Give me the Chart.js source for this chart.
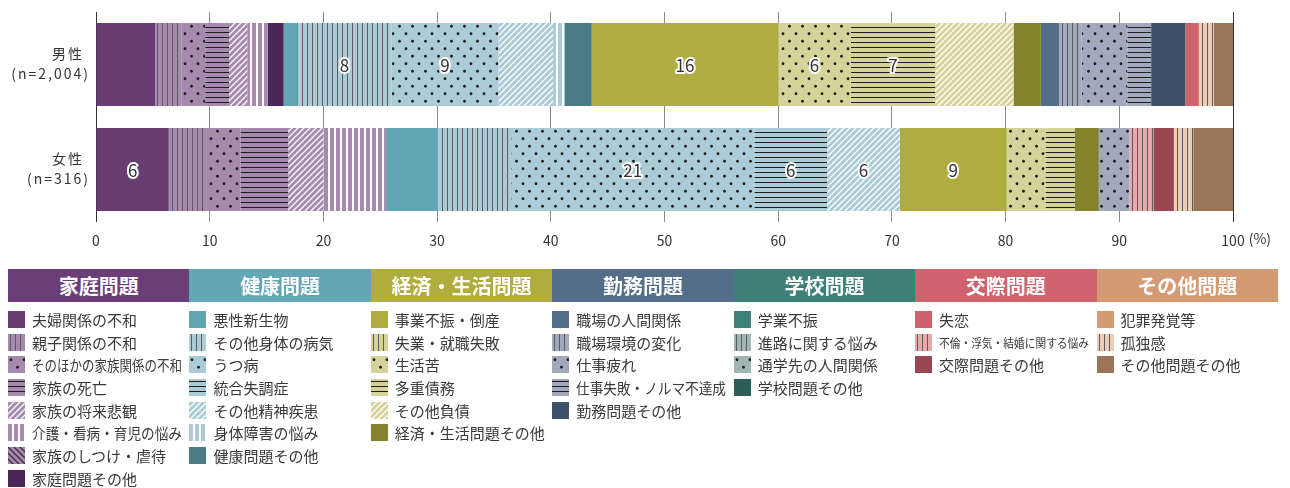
<!DOCTYPE html>
<html lang="ja">
<head>
<meta charset="utf-8">
<title>原因・動機別の構成比</title>
<script src="https://cdn.jsdelivr.net/npm/chart.js@4.4.1/dist/chart.umd.min.js"></script>
<style>
  body { margin: 0; background: #fff; font-family: "Noto Sans CJK JP", "Noto Sans", sans-serif; color: #333; }
  #wrap { position: relative; width: 1290px; height: 488px; }
  #chartBox { position: absolute; left: 0; top: 0; width: 1290px; height: 258px; }
  #legend { position: absolute; left: 8px; top: 269px; width: 1270px; display: flex; }
  .col { width: 181.43px; }
  .head { height: 33px; line-height: 33px; text-align: center; color: #fff; font-weight: bold; font-size: 20px; }
  .items { padding-top: 6px; }
  .item { height: 22.7px; display: flex; align-items: center; white-space: nowrap; font-size: 15px; color: #3a3a3a; }
  .item canvas { width: 17px; height: 17px; flex: none; margin-right: 7px; }
  .item span { display: inline-block; transform-origin: left center; }
  .item span.small { font-size: 12px; }
</style>
</head>
<body>
<div id="wrap">
  <div id="chartBox"><canvas id="chart"></canvas></div>
  <div id="legend"></div>
</div>
<script>
"use strict";

// data

const rowLabels = [['男性', '(n=2,004)'], ['女性', '(n=316)']];

const groupNames = ['家庭問題', '健康問題', '経済・生活問題', '勤務問題', '学校問題', '交際問題', 'その他問題'];

const categories = [
  '夫婦関係の不和', '親子関係の不和', 'そのほかの家族関係の不和', '家族の死亡', '家族の将来悲観', '介護・看病・育児の悩み', '家族のしつけ・虐待', '家庭問題その他',
  '悪性新生物', 'その他身体の病気', 'うつ病', '統合失調症', 'その他精神疾患', '身体障害の悩み', '健康問題その他',
  '事業不振・倒産', '失業・就職失敗', '生活苦', '多重債務', 'その他負債', '経済・生活問題その他',
  '職場の人間関係', '職場環境の変化', '仕事疲れ', '仕事失敗・ノルマ不達成', '勤務問題その他',
  '学業不振', '進路に関する悩み', '通学先の人間関係', '学校問題その他',
  '失恋', '不倫・浮気・結婚に関する悩み', '交際問題その他',
  '犯罪発覚等', '孤独感', 'その他問題その他'
];

const categoryGroup = [
  0, 0, 0, 0, 0, 0, 0, 0,
  1, 1, 1, 1, 1, 1, 1,
  2, 2, 2, 2, 2, 2,
  3, 3, 3, 3, 3,
  4, 4, 4, 4,
  5, 5, 5,
  6, 6, 6
];

// percent of each row
const maleValues = [
  5.2, 2.3, 2.1, 2.1, 1.6, 1.8, 0, 1.4,
  1.2, 8.3, 9.4, 0, 4.8, 1.0, 2.4,
  16.4, 0, 6.4, 7.4, 6.9, 2.4,
  1.6, 2.0, 4.0, 2.1, 3.0,
  0, 0, 0, 0,
  1.2, 0, 0,
  0, 1.3, 1.7
];

const femaleValues = [
  6.4, 3.4, 2.9, 4.2, 3.1, 5.5, 0, 0,
  4.6, 6.4, 21.4, 6.4, 6.4, 0, 0,
  9.4, 0, 3.4, 2.6, 0, 2.1,
  0, 0, 2.7, 0, 0,
  0, 0, 0, 0,
  0, 2.1, 1.8,
  0, 1.7, 3.5
];

// segments that carry a number inside the bar
const maleLabeled = [9, 10, 15, 17, 18];
const femaleLabeled = [0, 10, 11, 12, 15];

// styles

const groupColors = ['#6b3e78', '#64a6b5', '#b0ad3e', '#546e8a', '#3e8078', '#cf636e', '#d39a74'];

const fills = [
  ['solid', '#673d74'], ['vline', '#a68aad'], ['dots', '#a68aad'], ['hline', '#a68aad'],
  ['diag', '#a68aad'], ['wvline', '#a68aad'], ['bdiag', '#a68aad'], ['solid', '#4a2656'],
  ['solid', '#62a5b5'], ['vline', '#abcbd6'], ['dots', '#abcbd6'], ['hline', '#abcbd6'],
  ['diag', '#abcbd6'], ['wvline', '#abcbd6'], ['solid', '#4a7b87'],
  ['solid', '#afad3f'], ['vline', '#d6d39a'], ['dots', '#d6d39a'], ['hline', '#d6d39a'],
  ['diag', '#d6d39a'], ['solid', '#83832d'],
  ['solid', '#536d8a'], ['vline', '#a2a9bd'], ['dots', '#a2a9bd'], ['hline', '#a2a9bd'], ['solid', '#3b5069'],
  ['solid', '#3f8079'], ['vline', '#a0b6b2'], ['dots', '#a0b6b2'], ['solid', '#2b5e58'],
  ['solid', '#cd636d'], ['vline', '#e3aaa9'], ['solid', '#984652'],
  ['solid', '#d39a74'], ['vline', '#edcdb5'], ['solid', '#9b7557']
];

const FONT = '"Noto Sans CJK JP", "Noto Sans", sans-serif';
Chart.defaults.font.family = FONT;

// pattern tiles

function makeTile(kind, bg) {
  const sizes = { vline: [5, 5], wvline: [6, 6], hline: [5, 5], dots: [13, 15], diag: [6, 6], bdiag: [6, 6] };
  const c = document.createElement('canvas');
  c.width = sizes[kind][0];
  c.height = sizes[kind][1];
  const t = c.getContext('2d');
  t.fillStyle = bg;
  t.fillRect(0, 0, c.width, c.height);

  if (kind === 'vline') {
    t.fillStyle = '#5b5b60';
    t.fillRect(2, 0, 1, c.height);
  } else if (kind === 'wvline') {
    t.fillStyle = '#fff';
    t.fillRect(4, 0, 2, c.height);
  } else if (kind === 'hline') {
    t.fillStyle = '#1e1e1e';
    t.fillRect(0, 2, c.width, 1);
  } else if (kind === 'dots') {
    t.fillStyle = '#1e1e1e';
    [[3, 3.75], [9.5, 11.25]].forEach(([x, y]) => {
      t.beginPath();
      t.arc(x, y, 1.4, 0, Math.PI * 2);
      t.fill();
    });
  } else {
    t.strokeStyle = kind === 'diag' ? '#fff' : '#3c2a45';
    t.lineWidth = 1.3;
    t.beginPath();
    if (kind === 'diag') {
      t.moveTo(-1, 7); t.lineTo(7, -1);
      t.moveTo(-1, 1); t.lineTo(1, -1);
      t.moveTo(5, 7); t.lineTo(7, 5);
    } else {
      t.moveTo(-1, -1); t.lineTo(7, 7);
      t.moveTo(5, -1); t.lineTo(7, 1);
      t.moveTo(-1, 5); t.lineTo(1, 7);
    }
    t.stroke();
  }
  return c;
}

function fillFor(ctx, i) {
  const [kind, color] = fills[i];
  if (kind === 'solid') return color;
  return ctx.createPattern(makeTile(kind, color), 'repeat');
}

// plugins

const valueLabels = {
  id: 'valueLabels',
  afterDatasetsDraw(chart) {
    const c = chart.ctx;
    const shown = [maleLabeled, femaleLabeled];
    c.save();
    c.font = '17px ' + FONT;
    c.textAlign = 'center';
    c.textBaseline = 'middle';
    c.lineJoin = 'round';
    chart.data.datasets.forEach((ds, i) => {
      chart.getDatasetMeta(i).data.forEach((bar, row) => {
        if (!shown[row].includes(i)) return;
        const p = bar.getCenterPoint();
        const txt = String(Math.round(ds.data[row]));
        c.lineWidth = 4;
        c.strokeStyle = '#fff';
        c.strokeText(txt, p.x, p.y + 1);
        c.fillStyle = '#333';
        c.fillText(txt, p.x, p.y + 1);
      });
    });
    c.restore();
  }
};

// row names on the left, spaced out a little
const rowNames = {
  id: 'rowNames',
  afterDraw(chart) {
    const y = chart.scales.y;
    const c = chart.ctx;
    c.save();
    c.font = '14px ' + FONT;
    c.letterSpacing = '2px';
    c.fillStyle = '#333';
    c.textAlign = 'right';
    c.textBaseline = 'middle';
    chart.data.labels.forEach((lines, i) => {
      const py = y.getPixelForTick(i);
      c.fillText(lines[0], 84, py - 11);
      c.fillText(lines[1], 90, py + 9);
    });
    c.restore();
  }
};

const percentUnit = {
  id: 'percentUnit',
  afterDraw(chart) {
    const x = chart.scales.x;
    const c = chart.ctx;
    c.save();
    c.font = '14px ' + FONT;
    const w = c.measureText('100').width;
    c.fillStyle = '#333';
    c.textBaseline = 'top';
    c.textAlign = 'left';
    c.fillText('(%)', x.getPixelForValue(100) + w / 2 + 4, x.top + 10);
    c.restore();
  }
};

// chart

const canvas = document.getElementById('chart');
const ctx = canvas.getContext('2d');

const datasets = categories.map((name, i) => ({
  label: name,
  data: [maleValues[i], femaleValues[i]],
  backgroundColor: fillFor(ctx, i),
  borderWidth: 0,
  barPercentage: 0.79,
  categoryPercentage: 1
}));

const config = {
  type: 'bar',
  data: { labels: rowLabels, datasets },
  options: {
    indexAxis: 'y',
    responsive: true,
    maintainAspectRatio: false,
    animation: false,
    layout: { padding: { top: 12, right: 57, left: 0, bottom: 0 } },
    plugins: {
      legend: { display: false },
      tooltip: { enabled: false }
    },
    scales: {
      x: {
        stacked: true,
        min: 0,
        max: 100,
        ticks: { stepSize: 10, padding: 10, color: '#333', font: { size: 14 } },
        grid: {
          drawTicks: false,
          color: (c) => (c.tick && (c.tick.value === 0 || c.tick.value === 100)) ? '#333' : '#8c8c8c'
        },
        border: { display: false },
        afterFit: (s) => { s.height = 36; }
      },
      y: {
        stacked: true,
        ticks: { display: false },
        grid: { display: false, drawTicks: false },
        border: { display: false },
        afterFit: (s) => {
          s.width = 96;
          s.paddingTop = 0;
          s.paddingBottom = 0;
        }
      }
    }
  },
  plugins: [valueLabels, rowNames, percentUnit]
};

new Chart(canvas, config);

// legend

const legend = document.getElementById('legend');

groupNames.forEach((g, gi) => {
  const col = document.createElement('div');
  col.className = 'col';
  const head = document.createElement('div');
  head.className = 'head';
  head.style.background = groupColors[gi];
  head.textContent = g;
  col.appendChild(head);

  const items = document.createElement('div');
  items.className = 'items';
  categories.forEach((name, i) => {
    if (categoryGroup[i] !== gi) return;
    const item = document.createElement('div');
    item.className = 'item';
    const sw = document.createElement('canvas');
    sw.width = 17;
    sw.height = 17;
    const sctx = sw.getContext('2d');
    sctx.fillStyle = fillFor(sctx, i);
    sctx.fillRect(0, 0, 17, 17);
    const label = document.createElement('span');
    label.textContent = name;
    if (name.length > 12) label.className = 'small';
    item.appendChild(sw);
    item.appendChild(label);
    items.appendChild(item);
  });
  col.appendChild(items);
  legend.appendChild(col);
});

// squeeze long names into the column
document.querySelectorAll('.item span').forEach((s) => {
  const w = s.offsetWidth;
  if (w > 150) s.style.transform = 'scaleX(' + (150 / w) + ')';
});
</script>
</body>
</html>
